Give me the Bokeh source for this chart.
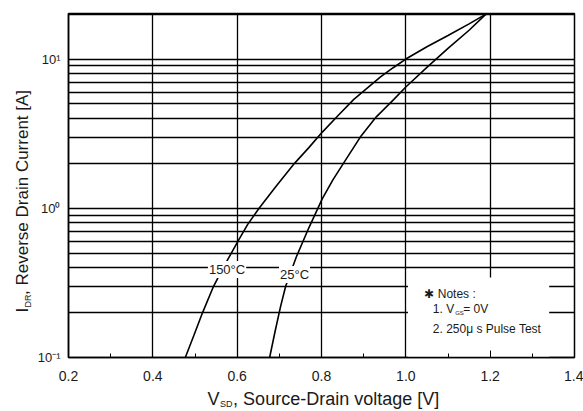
from bokeh.plotting import figure
from bokeh.models import FixedTicker, Label
from bokeh.embed import file_html
from bokeh.resources import INLINE
from math import pi, log10

# ---- data ----
v_150 = [0.477, 0.497, 0.518, 0.544, 0.567, 0.603, 0.625, 0.652, 0.69, 0.736, 0.77, 0.802, 0.84, 0.876, 0.94, 0.97, 1.0, 1.05, 1.1, 1.15, 1.19]
i_150 = [0.1, 0.14, 0.2, 0.3, 0.4, 0.61, 0.78, 1.0, 1.38, 2.0, 2.55, 3.24, 4.2, 5.35, 7.6, 8.75, 10.0, 12.1, 14.4, 17.2, 20.0]

v_25 = [0.677, 0.690, 0.703, 0.715, 0.74, 0.77, 0.802, 0.827, 0.852, 0.892, 0.93, 0.971, 1.0, 1.05, 1.1, 1.15, 1.19]
i_25 = [0.1, 0.15, 0.22, 0.3, 0.47, 0.74, 1.16, 1.55, 2.0, 3.0, 4.1, 5.35, 6.5, 8.8, 11.8, 15.6, 20.0]

x_major = [0.2, 0.4, 0.6, 0.8, 1.0, 1.2, 1.4]
x_minor = [0.3, 0.5, 0.7, 0.9, 1.1, 1.3]
x_labels = {0.2: "0.2", 0.4: "0.4", 0.6: "0.6", 0.8: "0.8", 1.0: "1.0", 1.2: "1.2", 1.4: "1.4"}

y_major = [0.1, 1.0, 10.0]
y_minor = [0.2, 0.3, 0.4, 0.5, 0.6, 0.7, 0.8, 0.9, 2, 3, 4, 5, 6, 7, 8, 9, 20]
y_labels = {0.1: "10\u207b\u00b9", 1.0: "10\u2070", 10.0: "10\u00b9"}

curve_labels = ["150\u00b0C", "25\u00b0C"]
curve_label_v = [0.576, 0.736]
curve_label_i = [0.389, 0.36]

notes_box = dict(left=1.005, right=1.34, bottom=0.1, top=0.344)

X0, X1 = 0.2, 1.4
Y0, Y1 = 0.1, 20.2
W, H = 583, 411
BL, BR, BT, BB = 68, 9, 13, 54

FONT = "Liberation Sans"
INK = "#1a1a1a"
GAP = "\u00a0\u00a0\u2009"

p = figure(width=W, height=H, x_range=(X0, X1), y_range=(Y0, Y1),
           y_axis_type="log", output_backend="svg", toolbar_location=None,
           min_border_left=BL, min_border_right=BR, min_border_top=BT, min_border_bottom=BB)
p.background_fill_color = "white"
p.border_fill_color = "white"
p.outline_line_color = "black"
p.outline_line_width = 1.5

# axes
p.xaxis.ticker = FixedTicker(ticks=x_major, minor_ticks=x_minor)
p.xaxis.major_label_overrides = x_labels
p.yaxis.ticker = FixedTicker(ticks=y_major, minor_ticks=y_minor)
p.yaxis.major_label_overrides = y_labels
for ax in (p.xaxis[0], p.yaxis[0]):
    ax.axis_line_color = "black"
    ax.axis_line_width = 1.5
    ax.major_tick_line_color = "black"
    ax.minor_tick_line_color = "black"
    ax.major_tick_out = 0
    ax.minor_tick_out = 0
    ax.major_label_text_font = FONT
    ax.major_label_text_color = INK
p.xaxis.major_tick_in = 7
p.xaxis.minor_tick_in = 4
p.yaxis.major_tick_in = 0
p.yaxis.minor_tick_in = 0
p.xaxis.major_label_text_font_size = "14px"
p.yaxis.major_label_text_font_size = "13px"
p.xaxis.major_label_standoff = 13
p.yaxis.major_label_standoff = 8

# grid
p.xgrid.grid_line_color = "black"
p.xgrid.grid_line_width = 1.3
p.ygrid.grid_line_color = "black"
p.ygrid.grid_line_width = 1.3
p.ygrid.minor_grid_line_color = "black"
p.ygrid.minor_grid_line_width = 1.3

# notes box (white, hides grid)
p.quad(left=[notes_box["left"]], right=[notes_box["right"]],
       bottom=[notes_box["bottom"]], top=[notes_box["top"]],
       fill_color="white", line_color=None)

# curves
p.line(v_150, i_150, line_color="black", line_width=1.6)
p.line(v_25, i_25, line_color="black", line_width=1.6)

for txt, vx, iy in zip(curve_labels, curve_label_v, curve_label_i):
    p.add_layout(Label(x=vx, y=iy, text=txt, text_font=FONT, text_font_size="13px",
                       text_color=INK, text_align="center", text_baseline="middle",
                       background_fill_color="white", padding=1))

# notes text
def lab(x, y, t, size="12px", **kw):
    p.add_layout(Label(x=x, y=y, text=t, text_font=FONT, text_font_size=size,
                       text_color=INK, text_baseline="middle", **kw))

lab(1.044, 0.265, "\u2731 Notes :")
lab(1.064, 0.211, "1. V")
lab(1.117, 0.200, "GS", size="6px")
lab(1.136, 0.211, "= 0V")
lab(1.064, 0.155, "2. 250\u03bc s Pulse Test")

# axis titles: labels in the side panels (not clipped), positioned via the plot scales
FW, FH = W - BL - BR, H - BT - BB
def cx(px):  # canvas x -> data x
    return X0 + (px - BL) * (X1 - X0) / FW
def cy(py):  # canvas y -> data y (log)
    return 10 ** (log10(Y0) + (H - BB - py) * (log10(Y1) - log10(Y0)) / FH)

def side(where, px, py, t, size, angle=0.0):
    p.add_layout(Label(x=cx(px), y=cy(py), text=t, text_font=FONT, text_font_size=size,
                       text_color=INK, text_baseline="middle", text_align="left",
                       angle=angle), where)

side("below", 207, 398, "V" + GAP + ", Source-Drain voltage [V]", "18px")
side("above", 219.5, 403, "SD", "9px")
side("left", 22, 312, "I" + GAP + ", Reverse Drain Current [A]", "17px", angle=pi / 2)
side("left", 27, 307, "DR", "9px", angle=pi / 2)

open("out.html", "w").write(file_html(p, INLINE))
